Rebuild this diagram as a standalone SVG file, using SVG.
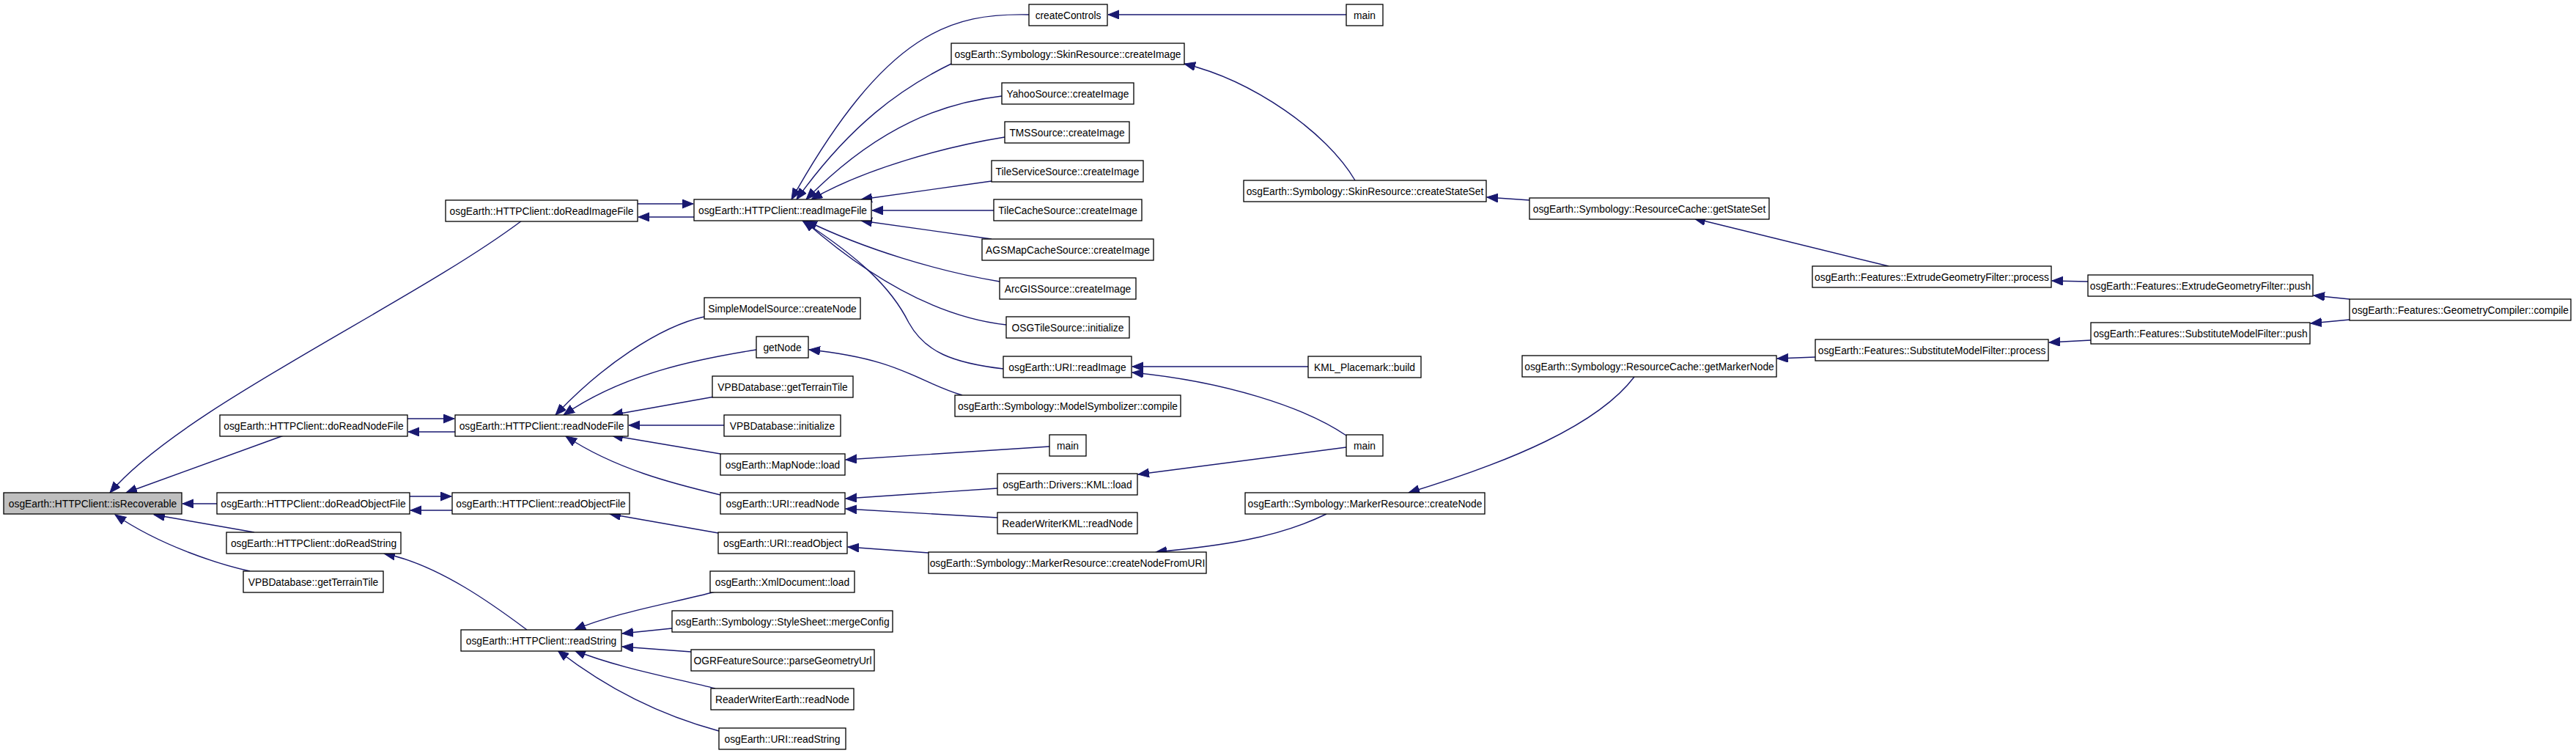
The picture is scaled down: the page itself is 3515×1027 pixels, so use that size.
<svg xmlns="http://www.w3.org/2000/svg" width="3515" height="1027" viewBox="0 0 3515 1027">
<style>
.n rect{fill:#fff;stroke:#000;stroke-width:1.3}
.root rect{fill:#bfbfbf}
.n text{font-family:"Liberation Sans",Arial,sans-serif;font-size:13.8px;fill:#000;text-anchor:middle}
.e path{fill:none;stroke:#191970;stroke-width:1.4;marker-end:url(#ah)}
</style>
<defs>
<marker id="ah" markerUnits="userSpaceOnUse" markerWidth="16" markerHeight="13" refX="15" refY="6" orient="auto">
<path d="M0,0 L15,6 L0,12 z" fill="#191970" stroke="#191970" stroke-width="1"/>
</marker>
</defs>
<rect width="3515" height="1027" fill="#fff"/>
<g id="edges" class="e">
<path d="M712,301 C560,415 250,555 150,672"/>
<path d="M387,594 L172,672"/>
<path d="M296,687 L249,687"/>
<path d="M347,726 L210,702"/>
<path d="M341,779 C300,770 220,745 157,702"/>
<path d="M870,278 L946,278"/>
<path d="M947,296 L871,296"/>
<path d="M556,571 L620,571"/>
<path d="M621,589 L557,589"/>
<path d="M559,677 L616,677"/>
<path d="M617,696 L560,696"/>
<path d="M719,859 C680,830 600,770 524,755"/>
<path d="M1404,20 C1300,18 1210,40 1080,272"/>
<path d="M1298,87 C1230,120 1160,170 1087,272"/>
<path d="M1367,131 C1290,140 1200,170 1100,272"/>
<path d="M1371,187 C1290,200 1180,230 1107,272"/>
<path d="M1353,247 L1175,272"/>
<path d="M1356,287 L1190,287"/>
<path d="M1353,326 L1175,301"/>
<path d="M1364,384 C1280,370 1180,340 1100,301"/>
<path d="M1373,443 C1300,435 1210,400 1097,301"/>
<path d="M1369,503 C1300,495 1262,480 1240,440 C1215,390 1170,350 1095,301"/>
<path d="M961,432 C900,445 820,500 758,566"/>
<path d="M1032,477 C950,490 850,510 769,566"/>
<path d="M975,541 L835,566"/>
<path d="M988,580 L858,580"/>
<path d="M983,619 L835,594"/>
<path d="M983,675 C920,660 840,640 772,595"/>
<path d="M980,727 L832,701"/>
<path d="M976,807 C920,822 840,835 784,859"/>
<path d="M917,857 L849,864"/>
<path d="M943,889 L849,882"/>
<path d="M976,939 C920,925 840,910 784,887"/>
<path d="M981,997 C900,975 830,940 761,887"/>
<path d="M1837,20 L1512,20"/>
<path d="M1849,246 C1810,180 1710,110 1616,87"/>
<path d="M2087,273 L2029,269"/>
<path d="M2577,363 L2312,298"/>
<path d="M2849,384 L2800,383"/>
<path d="M3206,408 L3157,403"/>
<path d="M3206,436 L3153,441"/>
<path d="M2853,464 L2796,467"/>
<path d="M2477,487 L2425,489"/>
<path d="M2230,514 C2180,580 2060,630 1922,672"/>
<path d="M1810,701 C1740,735 1660,745 1577,753"/>
<path d="M1267,754 L1157,746"/>
<path d="M1432,609 L1154,627"/>
<path d="M1837,610 L1553,647"/>
<path d="M1837,594 C1780,555 1670,520 1545,508"/>
<path d="M1785,500 L1545,500"/>
<path d="M1361,666 L1154,680"/>
<path d="M1361,706 L1154,694"/>
<path d="M1313,539 C1250,520 1230,490 1104,477"/>
</g>
<g id="n1" class="n root"><rect x="5" y="672" width="243" height="29"/><text x="126.5" y="691.5">osgEarth::HTTPClient::isRecoverable</text></g>
<g id="n2" class="n"><rect x="608" y="273" width="262" height="29"/><text x="739" y="292.5">osgEarth::HTTPClient::doReadImageFile</text></g>
<g id="n3" class="n"><rect x="300" y="566" width="256" height="29"/><text x="428" y="585.5">osgEarth::HTTPClient::doReadNodeFile</text></g>
<g id="n4" class="n"><rect x="296" y="672" width="263" height="29"/><text x="427.5" y="691.5">osgEarth::HTTPClient::doReadObjectFile</text></g>
<g id="n5" class="n"><rect x="309" y="726" width="238" height="29"/><text x="428" y="745.5">osgEarth::HTTPClient::doReadString</text></g>
<g id="n6" class="n"><rect x="332" y="779" width="191" height="29"/><text x="427.5" y="798.5">VPBDatabase::getTerrainTile</text></g>
<g id="n7" class="n"><rect x="947" y="272" width="242" height="29"/><text x="1068" y="291.5">osgEarth::HTTPClient::readImageFile</text></g>
<g id="n8" class="n"><rect x="621" y="566" width="236" height="29"/><text x="739" y="585.5">osgEarth::HTTPClient::readNodeFile</text></g>
<g id="n9" class="n"><rect x="617" y="672" width="242" height="29"/><text x="738" y="691.5">osgEarth::HTTPClient::readObjectFile</text></g>
<g id="n10" class="n"><rect x="629" y="859" width="219" height="29"/><text x="738.5" y="878.5">osgEarth::HTTPClient::readString</text></g>
<g id="n11" class="n"><rect x="1404" y="6" width="107" height="29"/><text x="1457.5" y="25.5">createControls</text></g>
<g id="n12" class="n"><rect x="1837" y="6" width="50" height="29"/><text x="1862" y="25.5">main</text></g>
<g id="n13" class="n"><rect x="1298" y="59" width="318" height="29"/><text x="1457" y="78.5">osgEarth::Symbology::SkinResource::createImage</text></g>
<g id="n14" class="n"><rect x="1367" y="113" width="180" height="29"/><text x="1457" y="132.5">YahooSource::createImage</text></g>
<g id="n15" class="n"><rect x="1371" y="166" width="170" height="29"/><text x="1456" y="185.5">TMSSource::createImage</text></g>
<g id="n16" class="n"><rect x="1353" y="219" width="207" height="29"/><text x="1456.5" y="238.5">TileServiceSource::createImage</text></g>
<g id="n17" class="n"><rect x="1356" y="272" width="202" height="29"/><text x="1457" y="291.5">TileCacheSource::createImage</text></g>
<g id="n18" class="n"><rect x="1340" y="326" width="234" height="29"/><text x="1457" y="345.5">AGSMapCacheSource::createImage</text></g>
<g id="n19" class="n"><rect x="1364" y="379" width="186" height="29"/><text x="1457" y="398.5">ArcGISSource::createImage</text></g>
<g id="n20" class="n"><rect x="1373" y="432" width="168" height="29"/><text x="1457" y="451.5">OSGTileSource::initialize</text></g>
<g id="n21" class="n"><rect x="1369" y="486" width="175" height="29"/><text x="1456.5" y="505.5">osgEarth::URI::readImage</text></g>
<g id="n22" class="n"><rect x="1697" y="246" width="331" height="29"/><text x="1862.5" y="265.5">osgEarth::Symbology::SkinResource::createStateSet</text></g>
<g id="n23" class="n"><rect x="1785" y="486" width="154" height="29"/><text x="1862" y="505.5">KML_Placemark::build</text></g>
<g id="n24" class="n"><rect x="961" y="406" width="213" height="29"/><text x="1067.5" y="425.5">SimpleModelSource::createNode</text></g>
<g id="n25" class="n"><rect x="1032" y="459" width="71" height="29"/><text x="1067.5" y="478.5">getNode</text></g>
<g id="n26" class="n"><rect x="972" y="513" width="192" height="29"/><text x="1068" y="532.5">VPBDatabase::getTerrainTile</text></g>
<g id="n27" class="n"><rect x="1303" y="539" width="308" height="29"/><text x="1457" y="558.5">osgEarth::Symbology::ModelSymbolizer::compile</text></g>
<g id="n28" class="n"><rect x="988" y="566" width="159" height="29"/><text x="1067.5" y="585.5">VPBDatabase::initialize</text></g>
<g id="n29" class="n"><rect x="1432" y="593" width="50" height="29"/><text x="1457" y="612.5">main</text></g>
<g id="n30" class="n"><rect x="1837" y="593" width="50" height="29"/><text x="1862" y="612.5">main</text></g>
<g id="n31" class="n"><rect x="983" y="619" width="170" height="29"/><text x="1068" y="638.5">osgEarth::MapNode::load</text></g>
<g id="n32" class="n"><rect x="1361" y="646" width="191" height="29"/><text x="1456.5" y="665.5">osgEarth::Drivers::KML::load</text></g>
<g id="n33" class="n"><rect x="983" y="672" width="170" height="29"/><text x="1068" y="691.5">osgEarth::URI::readNode</text></g>
<g id="n34" class="n"><rect x="1699" y="672" width="327" height="29"/><text x="1862.5" y="691.5">osgEarth::Symbology::MarkerResource::createNode</text></g>
<g id="n35" class="n"><rect x="1361" y="699" width="191" height="29"/><text x="1456.5" y="718.5">ReaderWriterKML::readNode</text></g>
<g id="n36" class="n"><rect x="980" y="726" width="176" height="29"/><text x="1068" y="745.5">osgEarth::URI::readObject</text></g>
<g id="n37" class="n"><rect x="1267" y="753" width="379" height="29"/><text x="1456.5" y="772.5">osgEarth::Symbology::MarkerResource::createNodeFromURI</text></g>
<g id="n38" class="n"><rect x="969" y="779" width="197" height="29"/><text x="1067.5" y="798.5">osgEarth::XmlDocument::load</text></g>
<g id="n39" class="n"><rect x="917" y="833" width="301" height="29"/><text x="1067.5" y="852.5">osgEarth::Symbology::StyleSheet::mergeConfig</text></g>
<g id="n40" class="n"><rect x="943" y="886" width="250" height="29"/><text x="1068" y="905.5">OGRFeatureSource::parseGeometryUrl</text></g>
<g id="n41" class="n"><rect x="970" y="939" width="195" height="29"/><text x="1067.5" y="958.5">ReaderWriterEarth::readNode</text></g>
<g id="n42" class="n"><rect x="981" y="993" width="173" height="29"/><text x="1067.5" y="1012.5">osgEarth::URI::readString</text></g>
<g id="n43" class="n"><rect x="2087" y="270" width="327" height="29"/><text x="2250.5" y="289.5">osgEarth::Symbology::ResourceCache::getStateSet</text></g>
<g id="n44" class="n"><rect x="2077" y="485" width="347" height="29"/><text x="2250.5" y="504.5">osgEarth::Symbology::ResourceCache::getMarkerNode</text></g>
<g id="n45" class="n"><rect x="2473" y="363" width="326" height="29"/><text x="2636" y="382.5">osgEarth::Features::ExtrudeGeometryFilter::process</text></g>
<g id="n46" class="n"><rect x="2849" y="375" width="307" height="29"/><text x="3002.5" y="394.5">osgEarth::Features::ExtrudeGeometryFilter::push</text></g>
<g id="n47" class="n"><rect x="3206" y="408" width="302" height="29"/><text x="3357" y="427.5">osgEarth::Features::GeometryCompiler::compile</text></g>
<g id="n48" class="n"><rect x="2853" y="440" width="299" height="29"/><text x="3002.5" y="459.5">osgEarth::Features::SubstituteModelFilter::push</text></g>
<g id="n49" class="n"><rect x="2477" y="463" width="318" height="29"/><text x="2636" y="482.5">osgEarth::Features::SubstituteModelFilter::process</text></g>
</svg>
